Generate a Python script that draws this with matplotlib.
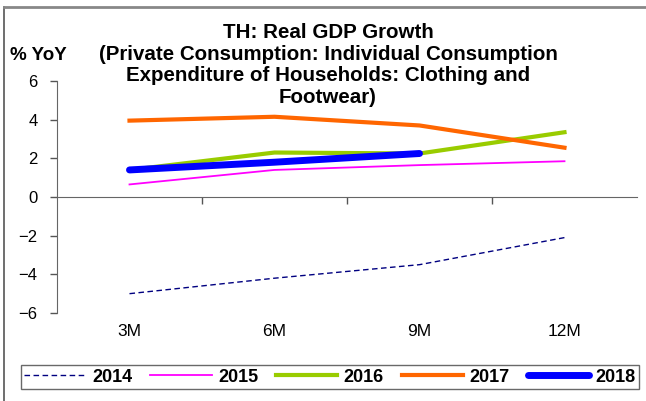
import matplotlib.pyplot as plt
import matplotlib.lines as mlines
from matplotlib.transforms import blended_transform_factory

plt.rcParams['font.family'] = ['Liberation Sans', 'DejaVu Sans']

periods = ['3M', '6M', '9M', '12M']
y2014 = [-5.0, -4.2, -3.5, -2.1]
y2015 = [0.65, 1.4, 1.65, 1.85]
y2016 = [1.4, 2.3, 2.25, 3.35]
y2017 = [3.95, 4.15, 3.7, 2.55]
y2018 = [1.4, 1.8, 2.25]

fig = plt.figure(figsize=(6.46, 4.01), dpi=100)
ax = fig.add_axes([57/646, 1 - 313/401, 580/646, 232/401])

x = list(range(len(periods)))
ax.plot(x, y2014, color='#000080', lw=1.0, ls=(0, (4, 2.5)), label='2014')
ax.plot(x, y2015, color='#FF00FF', lw=1.3, label='2015')
ax.plot(x, y2016, color='#99CC00', lw=3.0, label='2016')
ax.plot(x, y2017, color='#FF6600', lw=3.0, label='2017')
ax.plot(x[:len(y2018)], y2018, color='#0000FF', lw=5.0, solid_capstyle='round', label='2018')

ax.set_xlim(-0.5, len(periods) - 0.5)
ax.set_ylim(-6, 6)
ax.set_yticks(range(-6, 7, 2))
ax.tick_params(axis='y', direction='out', length=5, width=1, colors='#555555', labelcolor='black', labelsize=12, pad=9)

for s in ['top', 'right']:
    ax.spines[s].set_visible(False)
ax.spines['left'].set_color('#666666')
ax.spines['bottom'].set_position(('data', 0))
ax.spines['bottom'].set_color('#666666')

ax.set_xticks([i + 0.5 for i in x[:-1]])
ax.set_xticklabels([])
ax.tick_params(axis='x', direction='out', length=5, width=1, colors='#555555')
tr = blended_transform_factory(ax.transData, ax.transAxes)
for i, p in enumerate(periods):
    ax.text(i, -0.08, p, transform=tr, ha='center', va='center', fontsize=12.5)

fig.text(328/646, 1 - 65/401, 'TH: Real GDP Growth\n(Private Consumption: Individual Consumption\n'
         'Expenditure of Households: Clothing and\nFootwear)',
         ha='center', va='center', fontsize=14.8, fontweight='bold', linespacing=1.17)
fig.text(10/646, 1 - 55/401, '% YoY', ha='left', va='center', fontsize=13.5, fontweight='bold')

handles, labels = ax.get_legend_handles_labels()
leg = fig.legend(handles, labels, loc='center', bbox_to_anchor=(330/646, 1 - 377/401),
                 ncol=5, frameon=True, fancybox=False, handlelength=3.4, columnspacing=1.0,
                 handletextpad=0.35, prop={'weight': 'bold', 'size': 13}, borderpad=0.2)
leg.get_frame().set_edgecolor('#444444')
leg.get_frame().set_linewidth(1.0)

fig.add_artist(mlines.Line2D([4/646, 4/646], [0, 1 - 7/401], color='#555555', lw=1.2))
fig.add_artist(mlines.Line2D([4/646, 1], [1 - 7/401, 1 - 7/401], color='#888888', lw=2))

fig.savefig('out.png', dpi=100)
